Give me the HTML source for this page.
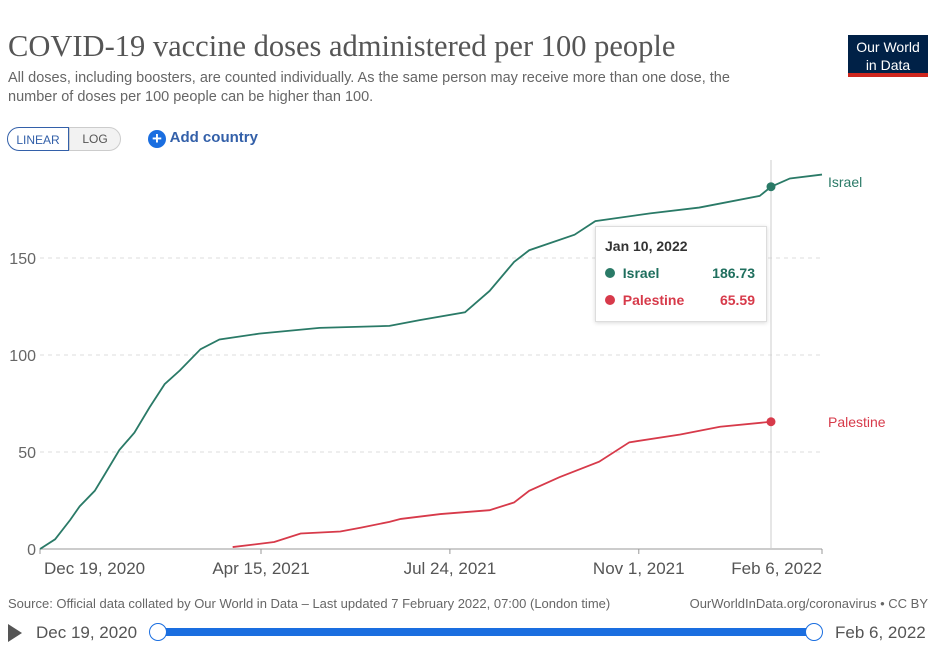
<!DOCTYPE html>
<html><head><meta charset="utf-8"><style>
body{margin:0;background:#fff;width:948px;height:657px;overflow:hidden;font-family:"Liberation Sans",sans-serif;position:relative}
.abs{position:absolute}
</style></head><body>
<div class="abs" style="left:8px;top:29px;font-family:'Liberation Serif',serif;font-size:30.5px;color:#555">COVID-19 vaccine doses administered per 100 people</div>
<div class="abs" style="left:8px;top:69px;font-size:14.5px;color:#666;line-height:19px;width:770px">All doses, including boosters, are counted individually. As the same person may receive more than one dose, the number of doses per 100 people can be higher than 100.</div>
<div class="abs" style="left:848px;top:35px;width:80px;height:42px;background:#002147;color:#fff;font-size:14px;text-align:center;line-height:18px;border-bottom:4px solid #ce261e;box-sizing:border-box;padding-top:3px">Our World<br>in Data</div>
<div class="abs" style="left:7px;top:127px;width:62px;height:24px;border:1px solid #3360a9;border-radius:12px 0 0 12px;font-size:12px;color:#3360a9;text-align:center;line-height:24px;box-sizing:border-box">LINEAR</div>
<div class="abs" style="left:69px;top:127px;width:52px;height:24px;border:1px solid #ccc;border-radius:0 12px 12px 0;background:#f2f2f2;font-size:12px;color:#555;text-align:center;line-height:22px;box-sizing:border-box">LOG</div>
<div class="abs" style="left:148px;top:127px;font-size:15px;color:#3360a9;font-weight:bold;line-height:22px"><span style="display:inline-block;width:18px;height:18px;border-radius:50%;background:#1a6ee0;color:#fff;text-align:center;line-height:18px;font-size:17px;vertical-align:-2px">+</span> Add country</div>
<svg id="chart" class="abs" style="left:0;top:0" width="948" height="657"></svg>
<div class="abs" style="left:595px;top:226px;width:170px;height:94px;background:#fff;border:1px solid #ddd;box-shadow:0 1px 4px rgba(0,0,0,.15);font-size:14px;color:#333">
<div style="position:absolute;left:9px;top:11px;font-weight:bold;font-size:14px">Jan 10, 2022</div>
<div style="position:absolute;left:9px;top:38px;width:150px;color:#1f6f5e;font-weight:bold"><span style="display:inline-block;width:10px;height:10px;border-radius:50%;background:#2a7a67"></span>&nbsp; Israel<span style="float:right">186.73</span></div>
<div style="position:absolute;left:9px;top:65px;width:150px;color:#d73a4a;font-weight:bold"><span style="display:inline-block;width:10px;height:10px;border-radius:50%;background:#d73a4a"></span>&nbsp; Palestine<span style="float:right">65.59</span></div>
</div>
<div class="abs" style="left:8px;top:596px;font-size:13px;color:#666">Source: Official data collated by Our World in Data – Last updated 7 February 2022, 07:00 (London time)</div>
<div class="abs" style="right:20px;top:596px;font-size:13px;color:#666">OurWorldInData.org/coronavirus • CC BY</div>
<div class="abs" style="left:8px;top:624px;width:0;height:0;border-left:14px solid #555;border-top:9px solid transparent;border-bottom:9px solid transparent"></div>
<div class="abs" style="left:36px;top:623px;font-size:17px;color:#555">Dec 19, 2020</div>
<div class="abs" style="left:158px;top:628px;width:658px;height:8px;background:#1a6ee0;border-radius:4px"></div>
<div class="abs" style="left:149px;top:623px;width:16px;height:16px;border:1.5px solid #1a6ee0;border-radius:50%;background:#fff"></div>
<div class="abs" style="left:805px;top:623px;width:16px;height:16px;border:1.5px solid #1a6ee0;border-radius:50%;background:#fff"></div>
<div class="abs" style="left:835px;top:623px;font-size:17px;color:#555">Feb 6, 2022</div>
<script>
const yTicks=[0,50,100,150];
const xTickLabels=["Dec 19, 2020","Apr 15, 2021","Jul 24, 2021","Nov 1, 2021","Feb 6, 2022"];
const xTickDays=[0,117,217,317,414];
const israelDays=[0,8,16,21,29,34,42,50,58,66,74,85,95,116,148,185,201,225,238,251,259,283,294,323,349,381,387,397,414];
const israelVals=[0,5,15,22,30,38,51,60,73,85,92,103,108,111,114,115,118,122,133,148,154,162,169,173,176,182,186.73,191,193];
const palDays=[102,124,138,159,170,185,191,212,238,251,259,275,296,312,339,360,387];
const palVals=[1,3.6,8,9,11,14,15.5,18,20,24,30,37,45,55,59,63,65.59];
const hoverDay=387;
const X=d=>40+d*(782/414), Y=v=>549-v*1.94;
const svg=document.getElementById('chart'),NS='http://www.w3.org/2000/svg';
function mk(t,a,name){const e=document.createElementNS(NS,t);for(const k in a)e.setAttribute(k,a[k]);


svg.appendChild(e);return e;}
yTicks.forEach(v=>{
 if(v>0)mk('line',{x1:40,x2:822,y1:Y(v),y2:Y(v),stroke:'#ddd','stroke-dasharray':'4,4'},'gridline-'+v);
 const t=mk('text',{x:36,y:Y(v)+6,'text-anchor':'end','font-size':16,fill:'#666','font-family':'Liberation Sans'},'y-tick-'+v);t.textContent=v;
});
mk('line',{x1:40,x2:822,y1:549,y2:549,stroke:'#999'},'x-axis');
xTickDays.forEach((d,i)=>{
 mk('line',{x1:X(d),x2:X(d),y1:549,y2:554,stroke:'#999'},'x-tick');
 const anchor=i==0?'start':i==xTickDays.length-1?'end':'middle';
 const t=mk('text',{x:i==0?44:X(d),y:574,'text-anchor':anchor,'font-size':17,fill:'#555','font-family':'Liberation Sans'},'x-tick-label');t.textContent=xTickLabels[i];
});
mk('line',{x1:X(hoverDay),x2:X(hoverDay),y1:160,y2:549,stroke:'#ccc'},'hover-line');
function series(days,vals,col,name){
 mk('polyline',{points:days.map((d,i)=>X(d)+','+Y(vals[i])).join(' '),fill:'none',stroke:col,'stroke-width':1.8},name+'-line');
 const i=days.indexOf(hoverDay);
 mk('circle',{cx:X(hoverDay),cy:Y(vals[i]),r:4.5,fill:col},name+'-hover-point');
}
series(israelDays,israelVals,'#2a7a67','israel');
series(palDays,palVals,'#d73a4a','palestine');
let t=mk('text',{x:828,y:187,'font-size':14,fill:'#2a7a67','font-family':'Liberation Sans'},'israel-label');t.textContent='Israel';
t=mk('text',{x:828,y:427,'font-size':14,fill:'#d73a4a','font-family':'Liberation Sans'},'palestine-label');t.textContent='Palestine';
</script>
</body></html>
